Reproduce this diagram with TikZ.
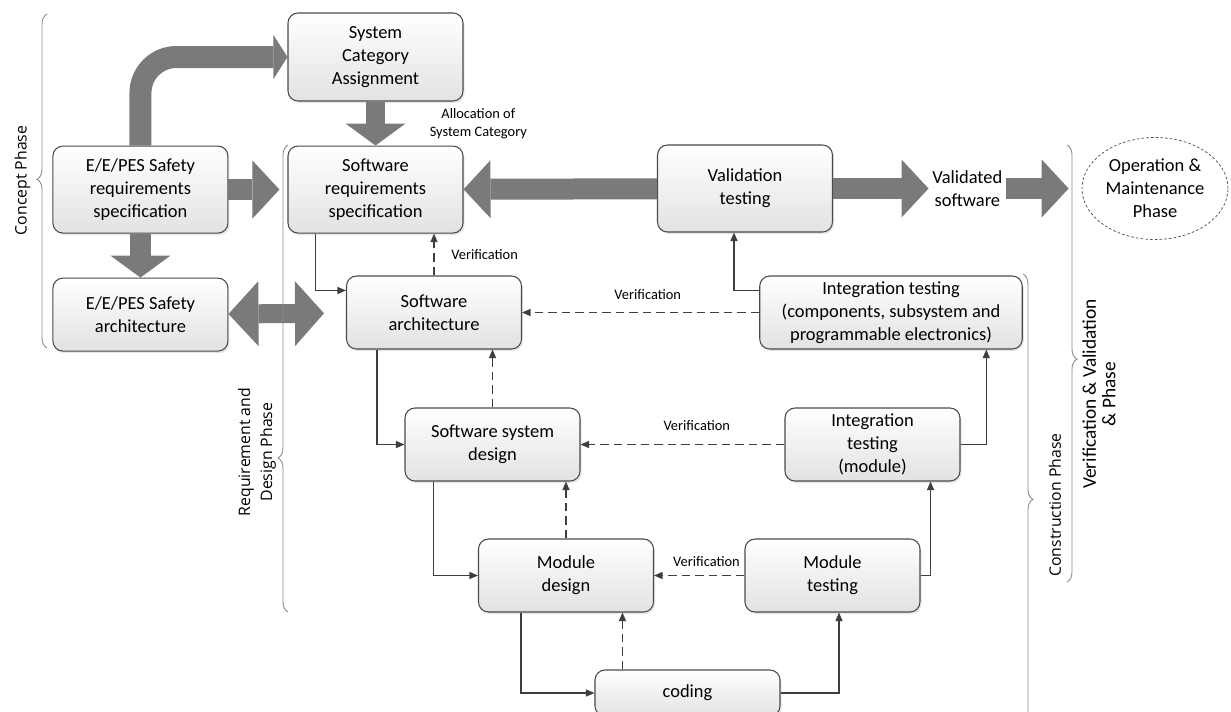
\documentclass[tikz,border=0pt]{standalone}
\usepackage{fontspec}
\setmainfont{Carlito}
\newfontfamily\phasefont{Open Sans}
\usepackage{tikz}
\usetikzlibrary{positioning,arrows.meta,shapes.geometric,decorations.pathreplacing,shadows}
\usepackage{xcolor}
\definecolor{boxEdge}{HTML}{4A4A4A}
\definecolor{boxShade}{HTML}{E2E2E2}
\definecolor{blockGray}{HTML}{7A7A7A}
\definecolor{lineGray}{HTML}{3F3F3F}
\definecolor{braceGray}{HTML}{8A8A8A}

\begin{document}
\begin{tikzpicture}[
          font=\fontsize{10.5}{13}\selectfont,
          box/.style={draw=boxEdge,line width=0.6pt,rounded corners=0.2cm,top color=white,bottom color=boxShade,
                      drop shadow={opacity=0.2,shadow xshift=0.03cm,shadow yshift=-0.04cm},
                      minimum width=3.5cm,minimum height=1.46cm,align=center,inner sep=1pt},
          tallbox/.style={box,minimum height=1.74cm},
          note/.style={font=\fontsize{8.2}{10}\selectfont,text=black,align=center,inner sep=1pt},
          phase/.style={font=\phasefont\fontsize{9}{12.5}\selectfont,align=center,rotate=90,inner sep=0pt},
          blkarr/.style={line width=0.42cm,blockGray,-{Triangle[width=1.16cm,length=0.54cm,line width=0pt]}},
          blkdown/.style={line width=0.42cm,blockGray,-{Triangle[width=1.2cm,length=0.44cm,line width=0pt]}},
          blkboth/.style={line width=0.38cm,blockGray,
                      {Triangle[width=1.3cm,length=0.6cm,line width=0pt]}-{Triangle[width=1.3cm,length=0.58cm,line width=0pt]}},
          blkbend/.style={line width=0.44cm,blockGray,rounded corners=0.72cm,-{Triangle[width=0.88cm,length=0.28cm,line width=0pt]}},
          arr/.style={line width=0.7pt,lineGray,-{Triangle[length=0.17cm,width=0.14cm]}},
          darr/.style={arr,dash pattern=on 0.17cm off 0.1cm},
          phasebrace/.style={decorate,decoration={brace,amplitude=0.2cm,aspect=#1},braceGray,line width=0.5pt}]
        \useasboundingbox (0,0) rectangle (24.62,-14.22);
        \node[box,minimum height=1.76cm] (syscat) at (7.51,-1.14) {System\\Category\\Assignment};
        \node[tallbox,below=0.88cm of syscat] (srs) {Software\\requirements\\specification};
        \node[tallbox,left=1.18cm of srs] (eereq) {E/E/PES Safety\\requirements\\specification};
        \node[box,below=0.88cm of eereq] (eearch) {E/E/PES Safety\\architecture};
        \node[box] (swarch) at (8.68,-6.25) {Software\\architecture};
        \node[tallbox] (vt) at (14.9,-3.77) {Validation\\testing};
        \node[right=1.91cm of vt,align=center,inner sep=2pt] (valsw) {Validated\\software};
        \node[ellipse,draw=boxEdge,line width=0.4pt,dash pattern=on 1.5pt off 1.2pt,
              minimum width=2.92cm,minimum height=2.04cm,inner sep=0pt,align=center] (opm) at (23.1,-3.77)
              {Operation \&\\Maintenance\\Phase};
        \node[box,minimum width=5.25cm] (itcomp) at (17.82,-6.25) {Integration testing\\(components, subsystem and\\programmable electronics)};
        \node[box] (ssd) at (9.85,-8.89) {Software system\\design};
        \node[box] (itmod) at (17.45,-8.89) {Integration\\testing\\(module)};
        \node[box] (mdes) at (11.32,-11.51) {Module\\design};
        \node[box] (mtest) at (16.65,-11.51) {Module\\testing};
        \node[box,minimum width=3.7cm,minimum height=0.92cm] (coding) at (13.75,-13.86) {coding};
        \draw[blkbend] (eereq.north) |- (syscat.west);
        \draw[blkdown,line width=0.38cm] (syscat) -- node[note,right=0.86cm]{Allocation of\\System Category} (srs);
        \draw[blkarr,shorten >=0.16cm] (eereq) -- (srs);
        \draw[blkdown] (eereq) -- (eearch);
        \draw[blkboth,shorten >=0.44cm] (eearch) -- (swarch);
        \draw[blkarr] (vt) -- (srs);
        \draw[blkarr] (vt) -- (valsw);
        \draw[blkarr,shorten >=0.26cm] (valsw) -- (opm);
        \draw[arr] ([xshift=0.56cm]srs.south west) |- ([yshift=-0.3cm]swarch.north west);
        \draw[darr] (swarch.north) -- node[note,right=0.3cm]{Verification} (swarch.north |- srs.south);
        \draw[darr] (itcomp.west) -- node[note,above=0.22cm,pos=0.47]{Verification} (swarch.east);
        \draw[arr] ([yshift=-0.3cm]itcomp.north west) -| ([xshift=-0.22cm]vt.south);
        \draw[darr] (ssd.north) -- (ssd.north |- swarch.south);
        \draw[arr] ([xshift=0.62cm]swarch.south west) |- (ssd.west);
        \draw[darr] (itmod.west) -- node[note,above=0.24cm,pos=0.43]{Verification} (ssd.east);
        \draw[arr] (itmod.east) -| ([xshift=-0.73cm]itcomp.south east);
        \draw[darr] (mdes.north) -- (mdes.north |- ssd.south);
        \draw[arr] ([xshift=0.58cm]ssd.south west) |- (mdes.west);
        \draw[darr] (mtest.west) -- node[note,above=0.13cm,pos=0.42]{Verification} (mdes.east);
        \draw[arr] (mtest.east) -| ([xshift=-0.6cm]itmod.south east);
        \draw[darr] ([xshift=0.56cm]coding.north west) -- ([xshift=0.56cm]coding.north west |- mdes.south);
        \draw[arr] ([xshift=0.86cm]mdes.south west) |- (coding.west);
        \draw[arr] (coding.east) -| ([xshift=0.13cm]mtest.south);
        \draw[phasebrace=0.505] (0.94,-6.96) -- (0.94,-0.28);
        \draw[phasebrace=0.33] (5.76,-12.24) -- (5.76,-2.9);
        \draw[phasebrace=0.49] (21.34,-2.9) -- (21.34,-11.64);
        \draw[phasebrace=0.5] (20.46,-5.48) -- (20.46,-14.5);
        \node[phase] (concept) at (0.45,-3.61) {Concept Phase};
        \node[phase] (reqdes) at (5.14,-9.04) {Requirement and\\Design Phase};
        \node[phase] (constr) at (21.1,-10.1) {Construction Phase};
        \node[phase,font=\fontsize{11}{11}\selectfont] (vv) at (21.98,-7.88) {Verification \& Validation\\\& Phase};
      \end{tikzpicture}
\end{document}
